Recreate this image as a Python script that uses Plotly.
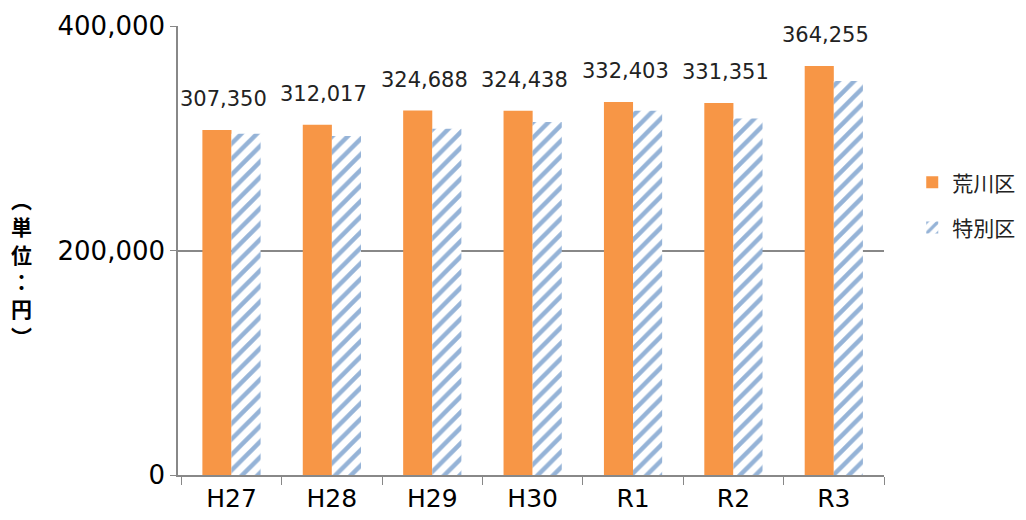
import plotly.graph_objects as go

categories = ["H27", "H28", "H29", "H30", "R1", "R2", "R3"]
arakawa = [307350, 312017, 324688, 324438, 332403, 331351, 364255]
tokubetsu = [304000, 302000, 308500, 314500, 324500, 317500, 351000]
label_text = ["307,350", "312,017", "324,688", "324,438", "332,403", "331,351", "364,255"]
y_ticks = [0, 200000, 400000]
y_tick_text = ["0", "200,000", "400,000"]

FONT = "DejaVu Sans, Verdana, sans-serif"

fig = go.Figure()
fig.add_trace(go.Bar(
    x=categories, y=arakawa, name="荒川区", legendgroup="a",
    marker=dict(color="#F79646", line=dict(width=0)),
))
fig.add_trace(go.Bar(
    x=categories, y=tokubetsu, name="特別区", legendgroup="b",
    marker=dict(color="white", line=dict(width=0),
                pattern=dict(shape="/", fgcolor="#95B3D7", bgcolor="white",
                             size=11, solidity=0.4, fillmode="replace")),
))

for c, v, t in zip(categories, arakawa, label_text):
    fig.add_annotation(x=c, y=v, text=t, showarrow=False, yanchor="bottom",
                       xshift=-8, yshift=17,
                       font=dict(family=FONT, size=21, color="#222222"))

fig.add_annotation(xref="paper", yref="paper", x=-0.221, y=0.463,
                   xanchor="center", yanchor="middle",
                   text="<b>︵<br>単<br>位<br>：<br>円<br>︶</b>",
                   showarrow=False, align="center",
                   font=dict(family="Noto Sans CJK JP", size=21, color="#000000"),
                   )

fig.update_layout(
    width=1026, height=520,
    margin=dict(l=170, r=150, t=18, b=53, autoexpand=False),
    paper_bgcolor="white", plot_bgcolor="white",
    barmode="group", bargap=0.42, bargroupgap=0,
    font=dict(family=FONT, color="#000000"),
    legend=dict(x=1.040, y=0.601, xanchor="left", yanchor="middle",
                font=dict(family="Noto Sans CJK JP", size=21, color="#222222"),
                itemsizing="constant", tracegroupgap=15, itemwidth=30),
    showlegend=True,
)
fig.update_xaxes(
    showline=True, linecolor="#888888", linewidth=1.5,
    ticks="outside", ticklen=8, tickcolor="#888888", tickson="boundaries",
    tickfont=dict(family=FONT, size=25, color="#000000"),
    showgrid=False, automargin=False,
)
fig.update_yaxes(
    range=[0, 400000], tickvals=y_ticks, ticktext=y_tick_text,
    showline=True, linecolor="#888888", linewidth=1.5,
    ticks="outside", ticklen=6, tickcolor="#888888",
    showgrid=True, gridcolor="#888888", gridwidth=1.5,
    zeroline=False, automargin=False,
    tickfont=dict(family=FONT, size=26, color="#000000"),
)

fig.write_html("out.html")
